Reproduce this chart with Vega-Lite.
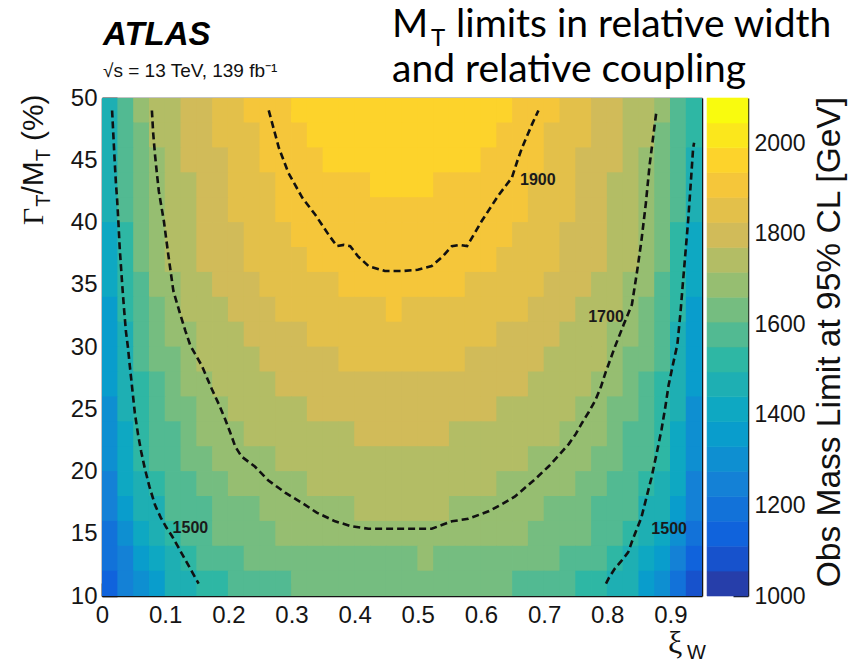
{
  "$schema": "https://vega.github.io/schema/vega-lite/v6.json",
  "width": 600,
  "height": 498,
  "autosize": {"type": "none"},
  "padding": {"left": 102, "top": 98, "right": 149, "bottom": 67},
  "background": "white",
  "config": {
    "view": {"stroke": null},
    "axis": {"grid": false, "zindex": 1, "tickColor": "#151515", "tickWidth": 1.5, "domainColor": "#151515", "domainWidth": 1.5, "labelFont": "Liberation Sans", "labelFontSize": 24, "labelColor": "#151515", "labelFlush": false, "labelOverlap": false},
    "text": {"font": "Liberation Sans", "color": "#111111"}
  },
  "datasets": {
    "cells": [
{"x":0.0125,"y":49,"v":1488},{"x":0.0375,"y":49,"v":1574},{"x":0.0625,"y":49,"v":1665},{"x":0.0875,"y":49,"v":1735},{"x":0.1125,"y":49,"v":1766},{"x":0.1375,"y":49,"v":1795},{"x":0.1625,"y":49,"v":1822},{"x":0.1875,"y":49,"v":1846},{"x":0.2125,"y":49,"v":1867},{"x":0.2375,"y":49,"v":1885},{"x":0.2625,"y":49,"v":1900},{"x":0.2875,"y":49,"v":1922},{"x":0.3125,"y":49,"v":1941},{"x":0.3375,"y":49,"v":1954},{"x":0.3625,"y":49,"v":1964},{"x":0.3875,"y":49,"v":1972},{"x":0.4125,"y":49,"v":1978},{"x":0.4375,"y":49,"v":1983},{"x":0.4625,"y":49,"v":1985},{"x":0.4875,"y":49,"v":1985},{"x":0.5125,"y":49,"v":1983},{"x":0.5375,"y":49,"v":1978},{"x":0.5625,"y":49,"v":1972},{"x":0.5875,"y":49,"v":1964},{"x":0.6125,"y":49,"v":1954},{"x":0.6375,"y":49,"v":1941},{"x":0.6625,"y":49,"v":1922},{"x":0.6875,"y":49,"v":1900},{"x":0.7125,"y":49,"v":1885},{"x":0.7375,"y":49,"v":1867},{"x":0.7625,"y":49,"v":1846},{"x":0.7875,"y":49,"v":1822},{"x":0.8125,"y":49,"v":1795},{"x":0.8375,"y":49,"v":1766},{"x":0.8625,"y":49,"v":1735},{"x":0.8875,"y":49,"v":1665},{"x":0.9125,"y":49,"v":1595},{"x":0.9375,"y":49,"v":1515},
{"x":0.0125,"y":47,"v":1478},{"x":0.0375,"y":47,"v":1565},{"x":0.0625,"y":47,"v":1657},{"x":0.0875,"y":47,"v":1722},{"x":0.1125,"y":47,"v":1755},{"x":0.1375,"y":47,"v":1784},{"x":0.1625,"y":47,"v":1810},{"x":0.1875,"y":47,"v":1834},{"x":0.2125,"y":47,"v":1855},{"x":0.2375,"y":47,"v":1873},{"x":0.2625,"y":47,"v":1890},{"x":0.2875,"y":47,"v":1909},{"x":0.3125,"y":47,"v":1926},{"x":0.3375,"y":47,"v":1940},{"x":0.3625,"y":47,"v":1952},{"x":0.3875,"y":47,"v":1961},{"x":0.4125,"y":47,"v":1968},{"x":0.4375,"y":47,"v":1973},{"x":0.4625,"y":47,"v":1975},{"x":0.4875,"y":47,"v":1975},{"x":0.5125,"y":47,"v":1973},{"x":0.5375,"y":47,"v":1968},{"x":0.5625,"y":47,"v":1961},{"x":0.5875,"y":47,"v":1952},{"x":0.6125,"y":47,"v":1940},{"x":0.6375,"y":47,"v":1926},{"x":0.6625,"y":47,"v":1909},{"x":0.6875,"y":47,"v":1890},{"x":0.7125,"y":47,"v":1873},{"x":0.7375,"y":47,"v":1855},{"x":0.7625,"y":47,"v":1834},{"x":0.7875,"y":47,"v":1810},{"x":0.8125,"y":47,"v":1784},{"x":0.8375,"y":47,"v":1755},{"x":0.8625,"y":47,"v":1722},{"x":0.8875,"y":47,"v":1657},{"x":0.9125,"y":47,"v":1585},{"x":0.9375,"y":47,"v":1505},
{"x":0.0125,"y":45,"v":1465},{"x":0.0375,"y":45,"v":1568},{"x":0.0625,"y":45,"v":1636},{"x":0.0875,"y":45,"v":1714},{"x":0.1125,"y":45,"v":1746},{"x":0.1375,"y":45,"v":1774},{"x":0.1625,"y":45,"v":1800},{"x":0.1875,"y":45,"v":1824},{"x":0.2125,"y":45,"v":1846},{"x":0.2375,"y":45,"v":1866},{"x":0.2625,"y":45,"v":1884},{"x":0.2875,"y":45,"v":1900},{"x":0.3125,"y":45,"v":1914},{"x":0.3375,"y":45,"v":1926},{"x":0.3625,"y":45,"v":1937},{"x":0.3875,"y":45,"v":1946},{"x":0.4125,"y":45,"v":1953},{"x":0.4375,"y":45,"v":1958},{"x":0.4625,"y":45,"v":1960},{"x":0.4875,"y":45,"v":1960},{"x":0.5125,"y":45,"v":1958},{"x":0.5375,"y":45,"v":1953},{"x":0.5625,"y":45,"v":1946},{"x":0.5875,"y":45,"v":1937},{"x":0.6125,"y":45,"v":1926},{"x":0.6375,"y":45,"v":1914},{"x":0.6625,"y":45,"v":1900},{"x":0.6875,"y":45,"v":1884},{"x":0.7125,"y":45,"v":1866},{"x":0.7375,"y":45,"v":1846},{"x":0.7625,"y":45,"v":1824},{"x":0.7875,"y":45,"v":1800},{"x":0.8125,"y":45,"v":1774},{"x":0.8375,"y":45,"v":1746},{"x":0.8625,"y":45,"v":1714},{"x":0.8875,"y":45,"v":1636},{"x":0.9125,"y":45,"v":1590},{"x":0.9375,"y":45,"v":1490},
{"x":0.0125,"y":43,"v":1455},{"x":0.0375,"y":43,"v":1570},{"x":0.0625,"y":43,"v":1640},{"x":0.0875,"y":43,"v":1700},{"x":0.1125,"y":43,"v":1738},{"x":0.1375,"y":43,"v":1769},{"x":0.1625,"y":43,"v":1796},{"x":0.1875,"y":43,"v":1820},{"x":0.2125,"y":43,"v":1842},{"x":0.2375,"y":43,"v":1862},{"x":0.2625,"y":43,"v":1879},{"x":0.2875,"y":43,"v":1893},{"x":0.3125,"y":43,"v":1904},{"x":0.3375,"y":43,"v":1911},{"x":0.3625,"y":43,"v":1918},{"x":0.3875,"y":43,"v":1925},{"x":0.4125,"y":43,"v":1932},{"x":0.4375,"y":43,"v":1940},{"x":0.4625,"y":43,"v":1945},{"x":0.4875,"y":43,"v":1945},{"x":0.5125,"y":43,"v":1940},{"x":0.5375,"y":43,"v":1932},{"x":0.5625,"y":43,"v":1925},{"x":0.5875,"y":43,"v":1918},{"x":0.6125,"y":43,"v":1911},{"x":0.6375,"y":43,"v":1904},{"x":0.6625,"y":43,"v":1893},{"x":0.6875,"y":43,"v":1879},{"x":0.7125,"y":43,"v":1862},{"x":0.7375,"y":43,"v":1842},{"x":0.7625,"y":43,"v":1820},{"x":0.7875,"y":43,"v":1796},{"x":0.8125,"y":43,"v":1769},{"x":0.8375,"y":43,"v":1738},{"x":0.8625,"y":43,"v":1700},{"x":0.8875,"y":43,"v":1640},{"x":0.9125,"y":43,"v":1575},{"x":0.9375,"y":43,"v":1468},
{"x":0.0125,"y":41,"v":1440},{"x":0.0375,"y":41,"v":1551},{"x":0.0625,"y":41,"v":1625},{"x":0.0875,"y":41,"v":1690},{"x":0.1125,"y":41,"v":1732},{"x":0.1375,"y":41,"v":1762},{"x":0.1625,"y":41,"v":1789},{"x":0.1875,"y":41,"v":1813},{"x":0.2125,"y":41,"v":1834},{"x":0.2375,"y":41,"v":1853},{"x":0.2625,"y":41,"v":1869},{"x":0.2875,"y":41,"v":1882},{"x":0.3125,"y":41,"v":1893},{"x":0.3375,"y":41,"v":1902},{"x":0.3625,"y":41,"v":1910},{"x":0.3875,"y":41,"v":1917},{"x":0.4125,"y":41,"v":1923},{"x":0.4375,"y":41,"v":1928},{"x":0.4625,"y":41,"v":1930},{"x":0.4875,"y":41,"v":1930},{"x":0.5125,"y":41,"v":1928},{"x":0.5375,"y":41,"v":1923},{"x":0.5625,"y":41,"v":1917},{"x":0.5875,"y":41,"v":1910},{"x":0.6125,"y":41,"v":1902},{"x":0.6375,"y":41,"v":1893},{"x":0.6625,"y":41,"v":1882},{"x":0.6875,"y":41,"v":1869},{"x":0.7125,"y":41,"v":1853},{"x":0.7375,"y":41,"v":1834},{"x":0.7625,"y":41,"v":1813},{"x":0.7875,"y":41,"v":1789},{"x":0.8125,"y":41,"v":1762},{"x":0.8375,"y":41,"v":1732},{"x":0.8625,"y":41,"v":1690},{"x":0.8875,"y":41,"v":1625},{"x":0.9125,"y":41,"v":1556},{"x":0.9375,"y":41,"v":1450},
{"x":0.0125,"y":39,"v":1425},{"x":0.0375,"y":39,"v":1546},{"x":0.0625,"y":39,"v":1618},{"x":0.0875,"y":39,"v":1688},{"x":0.1125,"y":39,"v":1724},{"x":0.1375,"y":39,"v":1753},{"x":0.1625,"y":39,"v":1779},{"x":0.1875,"y":39,"v":1802},{"x":0.2125,"y":39,"v":1823},{"x":0.2375,"y":39,"v":1841},{"x":0.2625,"y":39,"v":1857},{"x":0.2875,"y":39,"v":1871},{"x":0.3125,"y":39,"v":1883},{"x":0.3375,"y":39,"v":1893},{"x":0.3625,"y":39,"v":1901},{"x":0.3875,"y":39,"v":1907},{"x":0.4125,"y":39,"v":1913},{"x":0.4375,"y":39,"v":1918},{"x":0.4625,"y":39,"v":1920},{"x":0.4875,"y":39,"v":1920},{"x":0.5125,"y":39,"v":1918},{"x":0.5375,"y":39,"v":1913},{"x":0.5625,"y":39,"v":1907},{"x":0.5875,"y":39,"v":1901},{"x":0.6125,"y":39,"v":1893},{"x":0.6375,"y":39,"v":1883},{"x":0.6625,"y":39,"v":1871},{"x":0.6875,"y":39,"v":1857},{"x":0.7125,"y":39,"v":1841},{"x":0.7375,"y":39,"v":1823},{"x":0.7625,"y":39,"v":1802},{"x":0.7875,"y":39,"v":1779},{"x":0.8125,"y":39,"v":1753},{"x":0.8375,"y":39,"v":1724},{"x":0.8625,"y":39,"v":1688},{"x":0.8875,"y":39,"v":1618},{"x":0.9125,"y":39,"v":1546},{"x":0.9375,"y":39,"v":1430},
{"x":0.0125,"y":37,"v":1410},{"x":0.0375,"y":37,"v":1539},{"x":0.0625,"y":37,"v":1610},{"x":0.0875,"y":37,"v":1680},{"x":0.1125,"y":37,"v":1715},{"x":0.1375,"y":37,"v":1745},{"x":0.1625,"y":37,"v":1771},{"x":0.1875,"y":37,"v":1795},{"x":0.2125,"y":37,"v":1816},{"x":0.2375,"y":37,"v":1834},{"x":0.2625,"y":37,"v":1850},{"x":0.2875,"y":37,"v":1864},{"x":0.3125,"y":37,"v":1876},{"x":0.3375,"y":37,"v":1885},{"x":0.3625,"y":37,"v":1892},{"x":0.3875,"y":37,"v":1897},{"x":0.4125,"y":37,"v":1901},{"x":0.4375,"y":37,"v":1904},{"x":0.4625,"y":37,"v":1906},{"x":0.4875,"y":37,"v":1906},{"x":0.5125,"y":37,"v":1904},{"x":0.5375,"y":37,"v":1901},{"x":0.5625,"y":37,"v":1897},{"x":0.5875,"y":37,"v":1892},{"x":0.6125,"y":37,"v":1885},{"x":0.6375,"y":37,"v":1876},{"x":0.6625,"y":37,"v":1864},{"x":0.6875,"y":37,"v":1850},{"x":0.7125,"y":37,"v":1834},{"x":0.7375,"y":37,"v":1816},{"x":0.7625,"y":37,"v":1795},{"x":0.7875,"y":37,"v":1771},{"x":0.8125,"y":37,"v":1745},{"x":0.8375,"y":37,"v":1715},{"x":0.8625,"y":37,"v":1680},{"x":0.8875,"y":37,"v":1610},{"x":0.9125,"y":37,"v":1539},{"x":0.9375,"y":37,"v":1412},
{"x":0.0125,"y":35,"v":1395},{"x":0.0375,"y":35,"v":1530},{"x":0.0625,"y":35,"v":1600},{"x":0.0875,"y":35,"v":1668},{"x":0.1125,"y":35,"v":1703},{"x":0.1375,"y":35,"v":1728},{"x":0.1625,"y":35,"v":1753},{"x":0.1875,"y":35,"v":1776},{"x":0.2125,"y":35,"v":1796},{"x":0.2375,"y":35,"v":1814},{"x":0.2625,"y":35,"v":1830},{"x":0.2875,"y":35,"v":1845},{"x":0.3125,"y":35,"v":1857},{"x":0.3375,"y":35,"v":1867},{"x":0.3625,"y":35,"v":1876},{"x":0.3875,"y":35,"v":1883},{"x":0.4125,"y":35,"v":1888},{"x":0.4375,"y":35,"v":1892},{"x":0.4625,"y":35,"v":1894},{"x":0.4875,"y":35,"v":1894},{"x":0.5125,"y":35,"v":1892},{"x":0.5375,"y":35,"v":1888},{"x":0.5625,"y":35,"v":1883},{"x":0.5875,"y":35,"v":1876},{"x":0.6125,"y":35,"v":1867},{"x":0.6375,"y":35,"v":1857},{"x":0.6625,"y":35,"v":1845},{"x":0.6875,"y":35,"v":1830},{"x":0.7125,"y":35,"v":1814},{"x":0.7375,"y":35,"v":1796},{"x":0.7625,"y":35,"v":1776},{"x":0.7875,"y":35,"v":1753},{"x":0.8125,"y":35,"v":1728},{"x":0.8375,"y":35,"v":1703},{"x":0.8625,"y":35,"v":1668},{"x":0.8875,"y":35,"v":1600},{"x":0.9125,"y":35,"v":1530},{"x":0.9375,"y":35,"v":1395},
{"x":0.0125,"y":33,"v":1380},{"x":0.0375,"y":33,"v":1508},{"x":0.0625,"y":33,"v":1590},{"x":0.0875,"y":33,"v":1655},{"x":0.1125,"y":33,"v":1694},{"x":0.1375,"y":33,"v":1717},{"x":0.1625,"y":33,"v":1741},{"x":0.1875,"y":33,"v":1763},{"x":0.2125,"y":33,"v":1783},{"x":0.2375,"y":33,"v":1800},{"x":0.2625,"y":33,"v":1816},{"x":0.2875,"y":33,"v":1830},{"x":0.3125,"y":33,"v":1842},{"x":0.3375,"y":33,"v":1852},{"x":0.3625,"y":33,"v":1861},{"x":0.3875,"y":33,"v":1868},{"x":0.4125,"y":33,"v":1874},{"x":0.4375,"y":33,"v":1878},{"x":0.4625,"y":33,"v":1884},{"x":0.4875,"y":33,"v":1876},{"x":0.5125,"y":33,"v":1878},{"x":0.5375,"y":33,"v":1874},{"x":0.5625,"y":33,"v":1868},{"x":0.5875,"y":33,"v":1861},{"x":0.6125,"y":33,"v":1852},{"x":0.6375,"y":33,"v":1842},{"x":0.6625,"y":33,"v":1830},{"x":0.6875,"y":33,"v":1816},{"x":0.7125,"y":33,"v":1800},{"x":0.7375,"y":33,"v":1783},{"x":0.7625,"y":33,"v":1763},{"x":0.7875,"y":33,"v":1741},{"x":0.8125,"y":33,"v":1717},{"x":0.8375,"y":33,"v":1694},{"x":0.8625,"y":33,"v":1655},{"x":0.8875,"y":33,"v":1590},{"x":0.9125,"y":33,"v":1508},{"x":0.9375,"y":33,"v":1380},
{"x":0.0125,"y":31,"v":1365},{"x":0.0375,"y":31,"v":1494},{"x":0.0625,"y":31,"v":1575},{"x":0.0875,"y":31,"v":1640},{"x":0.1125,"y":31,"v":1680},{"x":0.1375,"y":31,"v":1708},{"x":0.1625,"y":31,"v":1729},{"x":0.1875,"y":31,"v":1748},{"x":0.2125,"y":31,"v":1765},{"x":0.2375,"y":31,"v":1780},{"x":0.2625,"y":31,"v":1795},{"x":0.2875,"y":31,"v":1809},{"x":0.3125,"y":31,"v":1822},{"x":0.3375,"y":31,"v":1833},{"x":0.3625,"y":31,"v":1842},{"x":0.3875,"y":31,"v":1850},{"x":0.4125,"y":31,"v":1856},{"x":0.4375,"y":31,"v":1860},{"x":0.4625,"y":31,"v":1862},{"x":0.4875,"y":31,"v":1862},{"x":0.5125,"y":31,"v":1860},{"x":0.5375,"y":31,"v":1856},{"x":0.5625,"y":31,"v":1850},{"x":0.5875,"y":31,"v":1842},{"x":0.6125,"y":31,"v":1833},{"x":0.6375,"y":31,"v":1822},{"x":0.6625,"y":31,"v":1809},{"x":0.6875,"y":31,"v":1795},{"x":0.7125,"y":31,"v":1780},{"x":0.7375,"y":31,"v":1765},{"x":0.7625,"y":31,"v":1748},{"x":0.7875,"y":31,"v":1729},{"x":0.8125,"y":31,"v":1708},{"x":0.8375,"y":31,"v":1680},{"x":0.8625,"y":31,"v":1640},{"x":0.8875,"y":31,"v":1575},{"x":0.9125,"y":31,"v":1494},{"x":0.9375,"y":31,"v":1365},
{"x":0.0125,"y":29,"v":1350},{"x":0.0375,"y":29,"v":1480},{"x":0.0625,"y":29,"v":1555},{"x":0.0875,"y":29,"v":1615},{"x":0.1125,"y":29,"v":1657},{"x":0.1375,"y":29,"v":1690},{"x":0.1625,"y":29,"v":1720},{"x":0.1875,"y":29,"v":1739},{"x":0.2125,"y":29,"v":1755},{"x":0.2375,"y":29,"v":1768},{"x":0.2625,"y":29,"v":1780},{"x":0.2875,"y":29,"v":1792},{"x":0.3125,"y":29,"v":1803},{"x":0.3375,"y":29,"v":1814},{"x":0.3625,"y":29,"v":1823},{"x":0.3875,"y":29,"v":1831},{"x":0.4125,"y":29,"v":1837},{"x":0.4375,"y":29,"v":1841},{"x":0.4625,"y":29,"v":1843},{"x":0.4875,"y":29,"v":1843},{"x":0.5125,"y":29,"v":1841},{"x":0.5375,"y":29,"v":1837},{"x":0.5625,"y":29,"v":1831},{"x":0.5875,"y":29,"v":1823},{"x":0.6125,"y":29,"v":1814},{"x":0.6375,"y":29,"v":1803},{"x":0.6625,"y":29,"v":1792},{"x":0.6875,"y":29,"v":1780},{"x":0.7125,"y":29,"v":1768},{"x":0.7375,"y":29,"v":1755},{"x":0.7625,"y":29,"v":1739},{"x":0.7875,"y":29,"v":1720},{"x":0.8125,"y":29,"v":1690},{"x":0.8375,"y":29,"v":1657},{"x":0.8625,"y":29,"v":1615},{"x":0.8875,"y":29,"v":1555},{"x":0.9125,"y":29,"v":1480},{"x":0.9375,"y":29,"v":1350},
{"x":0.0125,"y":27,"v":1335},{"x":0.0375,"y":27,"v":1468},{"x":0.0625,"y":27,"v":1545},{"x":0.0875,"y":27,"v":1595},{"x":0.1125,"y":27,"v":1634},{"x":0.1375,"y":27,"v":1668},{"x":0.1625,"y":27,"v":1698},{"x":0.1875,"y":27,"v":1722},{"x":0.2125,"y":27,"v":1738},{"x":0.2375,"y":27,"v":1752},{"x":0.2625,"y":27,"v":1765},{"x":0.2875,"y":27,"v":1776},{"x":0.3125,"y":27,"v":1786},{"x":0.3375,"y":27,"v":1795},{"x":0.3625,"y":27,"v":1803},{"x":0.3875,"y":27,"v":1810},{"x":0.4125,"y":27,"v":1816},{"x":0.4375,"y":27,"v":1820},{"x":0.4625,"y":27,"v":1822},{"x":0.4875,"y":27,"v":1822},{"x":0.5125,"y":27,"v":1820},{"x":0.5375,"y":27,"v":1816},{"x":0.5625,"y":27,"v":1810},{"x":0.5875,"y":27,"v":1803},{"x":0.6125,"y":27,"v":1795},{"x":0.6375,"y":27,"v":1786},{"x":0.6625,"y":27,"v":1776},{"x":0.6875,"y":27,"v":1765},{"x":0.7125,"y":27,"v":1752},{"x":0.7375,"y":27,"v":1738},{"x":0.7625,"y":27,"v":1722},{"x":0.7875,"y":27,"v":1698},{"x":0.8125,"y":27,"v":1668},{"x":0.8375,"y":27,"v":1634},{"x":0.8625,"y":27,"v":1595},{"x":0.8875,"y":27,"v":1545},{"x":0.9125,"y":27,"v":1468},{"x":0.9375,"y":27,"v":1335},
{"x":0.0125,"y":25,"v":1318},{"x":0.0375,"y":25,"v":1456},{"x":0.0625,"y":25,"v":1532},{"x":0.0875,"y":25,"v":1578},{"x":0.1125,"y":25,"v":1615},{"x":0.1375,"y":25,"v":1648},{"x":0.1625,"y":25,"v":1678},{"x":0.1875,"y":25,"v":1705},{"x":0.2125,"y":25,"v":1721},{"x":0.2375,"y":25,"v":1735},{"x":0.2625,"y":25,"v":1747},{"x":0.2875,"y":25,"v":1758},{"x":0.3125,"y":25,"v":1768},{"x":0.3375,"y":25,"v":1777},{"x":0.3625,"y":25,"v":1784},{"x":0.3875,"y":25,"v":1790},{"x":0.4125,"y":25,"v":1795},{"x":0.4375,"y":25,"v":1798},{"x":0.4625,"y":25,"v":1800},{"x":0.4875,"y":25,"v":1800},{"x":0.5125,"y":25,"v":1798},{"x":0.5375,"y":25,"v":1795},{"x":0.5625,"y":25,"v":1790},{"x":0.5875,"y":25,"v":1784},{"x":0.6125,"y":25,"v":1777},{"x":0.6375,"y":25,"v":1768},{"x":0.6625,"y":25,"v":1758},{"x":0.6875,"y":25,"v":1747},{"x":0.7125,"y":25,"v":1735},{"x":0.7375,"y":25,"v":1721},{"x":0.7625,"y":25,"v":1705},{"x":0.7875,"y":25,"v":1678},{"x":0.8125,"y":25,"v":1648},{"x":0.8375,"y":25,"v":1615},{"x":0.8625,"y":25,"v":1578},{"x":0.8875,"y":25,"v":1532},{"x":0.9125,"y":25,"v":1456},{"x":0.9375,"y":25,"v":1318},
{"x":0.0125,"y":23,"v":1300},{"x":0.0375,"y":23,"v":1437},{"x":0.0625,"y":23,"v":1514},{"x":0.0875,"y":23,"v":1561},{"x":0.1125,"y":23,"v":1600},{"x":0.1375,"y":23,"v":1633},{"x":0.1625,"y":23,"v":1662},{"x":0.1875,"y":23,"v":1688},{"x":0.2125,"y":23,"v":1710},{"x":0.2375,"y":23,"v":1720},{"x":0.2625,"y":23,"v":1729},{"x":0.2875,"y":23,"v":1738},{"x":0.3125,"y":23,"v":1747},{"x":0.3375,"y":23,"v":1755},{"x":0.3625,"y":23,"v":1762},{"x":0.3875,"y":23,"v":1768},{"x":0.4125,"y":23,"v":1773},{"x":0.4375,"y":23,"v":1776},{"x":0.4625,"y":23,"v":1778},{"x":0.4875,"y":23,"v":1778},{"x":0.5125,"y":23,"v":1776},{"x":0.5375,"y":23,"v":1773},{"x":0.5625,"y":23,"v":1768},{"x":0.5875,"y":23,"v":1762},{"x":0.6125,"y":23,"v":1755},{"x":0.6375,"y":23,"v":1747},{"x":0.6625,"y":23,"v":1738},{"x":0.6875,"y":23,"v":1729},{"x":0.7125,"y":23,"v":1720},{"x":0.7375,"y":23,"v":1710},{"x":0.7625,"y":23,"v":1688},{"x":0.7875,"y":23,"v":1662},{"x":0.8125,"y":23,"v":1633},{"x":0.8375,"y":23,"v":1600},{"x":0.8625,"y":23,"v":1561},{"x":0.8875,"y":23,"v":1514},{"x":0.9125,"y":23,"v":1437},{"x":0.9375,"y":23,"v":1300},
{"x":0.0125,"y":21,"v":1280},{"x":0.0375,"y":21,"v":1418},{"x":0.0625,"y":21,"v":1496},{"x":0.0875,"y":21,"v":1560},{"x":0.1125,"y":21,"v":1594},{"x":0.1375,"y":21,"v":1622},{"x":0.1625,"y":21,"v":1646},{"x":0.1875,"y":21,"v":1668},{"x":0.2125,"y":21,"v":1688},{"x":0.2375,"y":21,"v":1705},{"x":0.2625,"y":21,"v":1713},{"x":0.2875,"y":21,"v":1720},{"x":0.3125,"y":21,"v":1728},{"x":0.3375,"y":21,"v":1736},{"x":0.3625,"y":21,"v":1743},{"x":0.3875,"y":21,"v":1749},{"x":0.4125,"y":21,"v":1753},{"x":0.4375,"y":21,"v":1756},{"x":0.4625,"y":21,"v":1758},{"x":0.4875,"y":21,"v":1758},{"x":0.5125,"y":21,"v":1756},{"x":0.5375,"y":21,"v":1753},{"x":0.5625,"y":21,"v":1749},{"x":0.5875,"y":21,"v":1743},{"x":0.6125,"y":21,"v":1736},{"x":0.6375,"y":21,"v":1728},{"x":0.6625,"y":21,"v":1720},{"x":0.6875,"y":21,"v":1713},{"x":0.7125,"y":21,"v":1705},{"x":0.7375,"y":21,"v":1688},{"x":0.7625,"y":21,"v":1668},{"x":0.7875,"y":21,"v":1646},{"x":0.8125,"y":21,"v":1622},{"x":0.8375,"y":21,"v":1594},{"x":0.8625,"y":21,"v":1560},{"x":0.8875,"y":21,"v":1496},{"x":0.9125,"y":21,"v":1418},{"x":0.9375,"y":21,"v":1280},
{"x":0.0125,"y":19,"v":1260},{"x":0.0375,"y":19,"v":1395},{"x":0.0625,"y":19,"v":1475},{"x":0.0875,"y":19,"v":1540},{"x":0.1125,"y":19,"v":1574},{"x":0.1375,"y":19,"v":1602},{"x":0.1625,"y":19,"v":1625},{"x":0.1875,"y":19,"v":1646},{"x":0.2125,"y":19,"v":1664},{"x":0.2375,"y":19,"v":1680},{"x":0.2625,"y":19,"v":1694},{"x":0.2875,"y":19,"v":1706},{"x":0.3125,"y":19,"v":1713},{"x":0.3375,"y":19,"v":1719},{"x":0.3625,"y":19,"v":1725},{"x":0.3875,"y":19,"v":1730},{"x":0.4125,"y":19,"v":1735},{"x":0.4375,"y":19,"v":1738},{"x":0.4625,"y":19,"v":1740},{"x":0.4875,"y":19,"v":1740},{"x":0.5125,"y":19,"v":1738},{"x":0.5375,"y":19,"v":1735},{"x":0.5625,"y":19,"v":1730},{"x":0.5875,"y":19,"v":1725},{"x":0.6125,"y":19,"v":1719},{"x":0.6375,"y":19,"v":1713},{"x":0.6625,"y":19,"v":1706},{"x":0.6875,"y":19,"v":1694},{"x":0.7125,"y":19,"v":1680},{"x":0.7375,"y":19,"v":1664},{"x":0.7625,"y":19,"v":1646},{"x":0.7875,"y":19,"v":1625},{"x":0.8125,"y":19,"v":1602},{"x":0.8375,"y":19,"v":1574},{"x":0.8625,"y":19,"v":1540},{"x":0.8875,"y":19,"v":1475},{"x":0.9125,"y":19,"v":1395},{"x":0.9375,"y":19,"v":1255},
{"x":0.0125,"y":17,"v":1235},{"x":0.0375,"y":17,"v":1370},{"x":0.0625,"y":17,"v":1440},{"x":0.0875,"y":17,"v":1494},{"x":0.1125,"y":17,"v":1552},{"x":0.1375,"y":17,"v":1578},{"x":0.1625,"y":17,"v":1601},{"x":0.1875,"y":17,"v":1622},{"x":0.2125,"y":17,"v":1640},{"x":0.2375,"y":17,"v":1656},{"x":0.2625,"y":17,"v":1670},{"x":0.2875,"y":17,"v":1682},{"x":0.3125,"y":17,"v":1692},{"x":0.3375,"y":17,"v":1700},{"x":0.3625,"y":17,"v":1706},{"x":0.3875,"y":17,"v":1711},{"x":0.4125,"y":17,"v":1716},{"x":0.4375,"y":17,"v":1720},{"x":0.4625,"y":17,"v":1722},{"x":0.4875,"y":17,"v":1722},{"x":0.5125,"y":17,"v":1720},{"x":0.5375,"y":17,"v":1716},{"x":0.5625,"y":17,"v":1711},{"x":0.5875,"y":17,"v":1706},{"x":0.6125,"y":17,"v":1700},{"x":0.6375,"y":17,"v":1692},{"x":0.6625,"y":17,"v":1682},{"x":0.6875,"y":17,"v":1670},{"x":0.7125,"y":17,"v":1656},{"x":0.7375,"y":17,"v":1640},{"x":0.7625,"y":17,"v":1622},{"x":0.7875,"y":17,"v":1601},{"x":0.8125,"y":17,"v":1578},{"x":0.8375,"y":17,"v":1552},{"x":0.8625,"y":17,"v":1494},{"x":0.8875,"y":17,"v":1440},{"x":0.9125,"y":17,"v":1370},{"x":0.9375,"y":17,"v":1228},
{"x":0.0125,"y":15,"v":1215},{"x":0.0375,"y":15,"v":1310},{"x":0.0625,"y":15,"v":1385},{"x":0.0875,"y":15,"v":1450},{"x":0.1125,"y":15,"v":1516},{"x":0.1375,"y":15,"v":1555},{"x":0.1625,"y":15,"v":1583},{"x":0.1875,"y":15,"v":1608},{"x":0.2125,"y":15,"v":1630},{"x":0.2375,"y":15,"v":1644},{"x":0.2625,"y":15,"v":1656},{"x":0.2875,"y":15,"v":1667},{"x":0.3125,"y":15,"v":1676},{"x":0.3375,"y":15,"v":1683},{"x":0.3625,"y":15,"v":1688},{"x":0.3875,"y":15,"v":1691},{"x":0.4125,"y":15,"v":1693},{"x":0.4375,"y":15,"v":1694},{"x":0.4625,"y":15,"v":1694},{"x":0.4875,"y":15,"v":1694},{"x":0.5125,"y":15,"v":1694},{"x":0.5375,"y":15,"v":1693},{"x":0.5625,"y":15,"v":1691},{"x":0.5875,"y":15,"v":1688},{"x":0.6125,"y":15,"v":1683},{"x":0.6375,"y":15,"v":1676},{"x":0.6625,"y":15,"v":1667},{"x":0.6875,"y":15,"v":1656},{"x":0.7125,"y":15,"v":1644},{"x":0.7375,"y":15,"v":1630},{"x":0.7625,"y":15,"v":1608},{"x":0.7875,"y":15,"v":1583},{"x":0.8125,"y":15,"v":1555},{"x":0.8375,"y":15,"v":1516},{"x":0.8625,"y":15,"v":1450},{"x":0.8875,"y":15,"v":1385},{"x":0.9125,"y":15,"v":1300},{"x":0.9375,"y":15,"v":1195},
{"x":0.0125,"y":13,"v":1180},{"x":0.0375,"y":13,"v":1265},{"x":0.0625,"y":13,"v":1345},{"x":0.0875,"y":13,"v":1415},{"x":0.1125,"y":13,"v":1478},{"x":0.1375,"y":13,"v":1521},{"x":0.1625,"y":13,"v":1552},{"x":0.1875,"y":13,"v":1575},{"x":0.2125,"y":13,"v":1593},{"x":0.2375,"y":13,"v":1607},{"x":0.2625,"y":13,"v":1619},{"x":0.2875,"y":13,"v":1629},{"x":0.3125,"y":13,"v":1637},{"x":0.3375,"y":13,"v":1643},{"x":0.3625,"y":13,"v":1648},{"x":0.3875,"y":13,"v":1652},{"x":0.4125,"y":13,"v":1655},{"x":0.4375,"y":13,"v":1657},{"x":0.4625,"y":13,"v":1658},{"x":0.4875,"y":13,"v":1658},{"x":0.5125,"y":13,"v":1665},{"x":0.5375,"y":13,"v":1655},{"x":0.5625,"y":13,"v":1652},{"x":0.5875,"y":13,"v":1648},{"x":0.6125,"y":13,"v":1643},{"x":0.6375,"y":13,"v":1637},{"x":0.6625,"y":13,"v":1629},{"x":0.6875,"y":13,"v":1619},{"x":0.7125,"y":13,"v":1607},{"x":0.7375,"y":13,"v":1593},{"x":0.7625,"y":13,"v":1575},{"x":0.7875,"y":13,"v":1552},{"x":0.8125,"y":13,"v":1521},{"x":0.8375,"y":13,"v":1478},{"x":0.8625,"y":13,"v":1415},{"x":0.8875,"y":13,"v":1345},{"x":0.9125,"y":13,"v":1255},{"x":0.9375,"y":13,"v":1150},
{"x":0.0125,"y":11,"v":1140},{"x":0.0375,"y":11,"v":1240},{"x":0.0625,"y":11,"v":1310},{"x":0.0875,"y":11,"v":1380},{"x":0.1125,"y":11,"v":1440},{"x":0.1375,"y":11,"v":1485},{"x":0.1625,"y":11,"v":1515},{"x":0.1875,"y":11,"v":1538},{"x":0.2125,"y":11,"v":1557},{"x":0.2375,"y":11,"v":1573},{"x":0.2625,"y":11,"v":1587},{"x":0.2875,"y":11,"v":1599},{"x":0.3125,"y":11,"v":1609},{"x":0.3375,"y":11,"v":1617},{"x":0.3625,"y":11,"v":1623},{"x":0.3875,"y":11,"v":1628},{"x":0.4125,"y":11,"v":1632},{"x":0.4375,"y":11,"v":1634},{"x":0.4625,"y":11,"v":1635},{"x":0.4875,"y":11,"v":1635},{"x":0.5125,"y":11,"v":1634},{"x":0.5375,"y":11,"v":1632},{"x":0.5625,"y":11,"v":1628},{"x":0.5875,"y":11,"v":1623},{"x":0.6125,"y":11,"v":1617},{"x":0.6375,"y":11,"v":1609},{"x":0.6625,"y":11,"v":1599},{"x":0.6875,"y":11,"v":1587},{"x":0.7125,"y":11,"v":1573},{"x":0.7375,"y":11,"v":1557},{"x":0.7625,"y":11,"v":1538},{"x":0.7875,"y":11,"v":1515},{"x":0.8125,"y":11,"v":1485},{"x":0.8375,"y":11,"v":1440},{"x":0.8625,"y":11,"v":1380},{"x":0.8875,"y":11,"v":1310},{"x":0.9125,"y":11,"v":1200},{"x":0.9375,"y":11,"v":1090}
    ],
    "contours": [
{"c":"1500L","x":0.016,"y":49.0},{"c":"1500L","x":0.018,"y":47.0},{"c":"1500L","x":0.020,"y":45.0},{"c":"1500L","x":0.022,"y":43.2},{"c":"1500L","x":0.024,"y":41.8},{"c":"1500L","x":0.026,"y":40.0},{"c":"1500L","x":0.028,"y":38.0},{"c":"1500L","x":0.030,"y":36.5},{"c":"1500L","x":0.032,"y":35.0},{"c":"1500L","x":0.035,"y":33.0},{"c":"1500L","x":0.038,"y":31.2},{"c":"1500L","x":0.041,"y":30.0},{"c":"1500L","x":0.044,"y":28.5},{"c":"1500L","x":0.048,"y":26.6},{"c":"1500L","x":0.052,"y":24.7},{"c":"1500L","x":0.057,"y":23.0},{"c":"1500L","x":0.062,"y":21.6},{"c":"1500L","x":0.068,"y":20.2},{"c":"1500L","x":0.075,"y":18.8},{"c":"1500L","x":0.084,"y":17.3},{"c":"1500L","x":0.093,"y":16.3},{"c":"1500L","x":0.102,"y":15.5},{"c":"1500L","x":0.111,"y":14.8},{"c":"1500L","x":0.121,"y":13.9},{"c":"1500L","x":0.132,"y":12.9},{"c":"1500L","x":0.143,"y":11.9},{"c":"1500L","x":0.153,"y":11.0},
{"c":"1500R","x":0.798,"y":11.0},{"c":"1500R","x":0.803,"y":11.5},{"c":"1500R","x":0.812,"y":12.2},{"c":"1500R","x":0.822,"y":12.8},{"c":"1500R","x":0.833,"y":13.5},{"c":"1500R","x":0.840,"y":14.5},{"c":"1500R","x":0.847,"y":15.4},{"c":"1500R","x":0.854,"y":16.3},{"c":"1500R","x":0.862,"y":17.9},{"c":"1500R","x":0.870,"y":19.5},{"c":"1500R","x":0.878,"y":21.4},{"c":"1500R","x":0.886,"y":23.4},{"c":"1500R","x":0.892,"y":25.2},{"c":"1500R","x":0.897,"y":26.9},{"c":"1500R","x":0.904,"y":28.6},{"c":"1500R","x":0.911,"y":30.2},{"c":"1500R","x":0.916,"y":32.8},{"c":"1500R","x":0.920,"y":35.3},{"c":"1500R","x":0.924,"y":37.7},{"c":"1500R","x":0.928,"y":40.1},{"c":"1500R","x":0.932,"y":43.0},{"c":"1500R","x":0.936,"y":46.0},{"c":"1500R","x":0.9375,"y":46.4},
{"c":"1700","x":0.079,"y":49.0},{"c":"1700","x":0.081,"y":47.2},{"c":"1700","x":0.084,"y":45.4},{"c":"1700","x":0.087,"y":43.9},{"c":"1700","x":0.090,"y":42.5},{"c":"1700","x":0.098,"y":40.1},{"c":"1700","x":0.105,"y":37.4},{"c":"1700","x":0.113,"y":34.5},{"c":"1700","x":0.124,"y":32.6},{"c":"1700","x":0.132,"y":31.3},{"c":"1700","x":0.140,"y":30.1},{"c":"1700","x":0.158,"y":28.5},{"c":"1700","x":0.174,"y":26.6},{"c":"1700","x":0.185,"y":25.4},{"c":"1700","x":0.195,"y":24.2},{"c":"1700","x":0.204,"y":23.0},{"c":"1700","x":0.211,"y":22.0},{"c":"1700","x":0.221,"y":21.2},{"c":"1700","x":0.242,"y":20.4},{"c":"1700","x":0.263,"y":19.3},{"c":"1700","x":0.290,"y":18.3},{"c":"1700","x":0.316,"y":17.5},{"c":"1700","x":0.340,"y":16.7},{"c":"1700","x":0.369,"y":16.0},{"c":"1700","x":0.395,"y":15.6},{"c":"1700","x":0.422,"y":15.4},{"c":"1700","x":0.475,"y":15.4},{"c":"1700","x":0.522,"y":15.4},{"c":"1700","x":0.538,"y":15.7},{"c":"1700","x":0.554,"y":16.0},{"c":"1700","x":0.580,"y":16.2},{"c":"1700","x":0.612,"y":16.8},{"c":"1700","x":0.634,"y":17.4},{"c":"1700","x":0.654,"y":18.0},{"c":"1700","x":0.686,"y":19.4},{"c":"1700","x":0.707,"y":20.4},{"c":"1700","x":0.725,"y":21.4},{"c":"1700","x":0.739,"y":22.2},{"c":"1700","x":0.750,"y":23.0},{"c":"1700","x":0.760,"y":23.9},{"c":"1700","x":0.771,"y":24.8},{"c":"1700","x":0.781,"y":25.7},{"c":"1700","x":0.790,"y":26.8},{"c":"1700","x":0.797,"y":27.9},{"c":"1700","x":0.812,"y":30.0},{"c":"1700","x":0.826,"y":31.8},{"c":"1700","x":0.839,"y":33.4},{"c":"1700","x":0.847,"y":36.0},{"c":"1700","x":0.854,"y":38.5},{"c":"1700","x":0.861,"y":41.5},{"c":"1700","x":0.867,"y":44.6},{"c":"1700","x":0.873,"y":47.0},{"c":"1700","x":0.878,"y":49.0},
{"c":"1900","x":0.264,"y":49.0},{"c":"1900","x":0.272,"y":47.5},{"c":"1900","x":0.280,"y":46.0},{"c":"1900","x":0.295,"y":44.0},{"c":"1900","x":0.317,"y":42.0},{"c":"1900","x":0.338,"y":40.6},{"c":"1900","x":0.359,"y":39.0},{"c":"1900","x":0.372,"y":38.1},{"c":"1900","x":0.383,"y":38.2},{"c":"1900","x":0.393,"y":38.1},{"c":"1900","x":0.405,"y":37.3},{"c":"1900","x":0.422,"y":36.5},{"c":"1900","x":0.448,"y":36.1},{"c":"1900","x":0.475,"y":36.1},{"c":"1900","x":0.500,"y":36.2},{"c":"1900","x":0.522,"y":36.5},{"c":"1900","x":0.540,"y":37.3},{"c":"1900","x":0.554,"y":38.1},{"c":"1900","x":0.566,"y":38.2},{"c":"1900","x":0.578,"y":38.1},{"c":"1900","x":0.601,"y":40.1},{"c":"1900","x":0.628,"y":42.2},{"c":"1900","x":0.649,"y":43.6},{"c":"1900","x":0.658,"y":45.0},{"c":"1900","x":0.665,"y":46.0},{"c":"1900","x":0.681,"y":47.9},{"c":"1900","x":0.691,"y":49.0}
    ],
    "clabels": [
      {"level": "1900", "x": 0.690, "y": 43.44},
      {"level": "1700", "x": 0.798, "y": 32.41},
      {"level": "1500", "x": 0.140, "y": 15.49},
      {"level": "1500", "x": 0.898, "y": 15.36}
    ],
    "bands": [
      {"lo": 1000, "hi": 1055}, {"lo": 1055, "hi": 1110}, {"lo": 1110, "hi": 1165}, {"lo": 1165, "hi": 1220},
      {"lo": 1220, "hi": 1275}, {"lo": 1275, "hi": 1330}, {"lo": 1330, "hi": 1385}, {"lo": 1385, "hi": 1440},
      {"lo": 1440, "hi": 1495}, {"lo": 1495, "hi": 1550}, {"lo": 1550, "hi": 1605}, {"lo": 1605, "hi": 1660},
      {"lo": 1660, "hi": 1715}, {"lo": 1715, "hi": 1770}, {"lo": 1770, "hi": 1825}, {"lo": 1825, "hi": 1880},
      {"lo": 1880, "hi": 1935}, {"lo": 1935, "hi": 1990}, {"lo": 1990, "hi": 2045}, {"lo": 2045, "hi": 2100}
    ]
  },
  "layer": [
    {
      "layer": [
        {
          "data": {"name": "cells"},
          "mark": {"type": "rect", "width": 16.6, "height": 25.7, "clip": true},
          "encoding": {
            "x": {"field": "x", "type": "quantitative", "scale": {"domain": [0, 0.95], "nice": false, "zero": false},
                  "axis": {"orient": "bottom", "values": [0, 0.1, 0.2, 0.3, 0.4, 0.5, 0.6, 0.7, 0.8, 0.9], "format": "~g", "tickSize": -13, "labelPadding": 20, "domain": true, "title": null}},
            "y": {"field": "y", "type": "quantitative", "scale": {"domain": [10, 50], "nice": false, "zero": false},
                  "axis": {"orient": "left", "values": [10, 15, 20, 25, 30, 35, 40, 45, 50], "tickSize": -15, "labelPadding": 20, "domain": true, "title": null}},
            "color": {"field": "v", "type": "quantitative",
                      "scale": {"type": "quantize", "domain": [1000, 2100], "range": ["#263eaa","#1752cc","#1063dc","#1272d9","#1481d6","#0e8fd1","#099dcc","#0ea8c2","#1eafb3","#2eb7a4","#52ba92","#75bd80","#96be71","#b3bd65","#d1bb59","#e3c04a","#f5c63a","#fdd32b","#fbe71c","#f9fb0e"]},
                      "legend": null}
          }
        },
        {
          "data": {"name": "contours"},
          "mark": {"type": "line", "stroke": "#111111", "strokeWidth": 2.6, "strokeDash": [7, 4]},
          "encoding": {
            "x": {"field": "x", "type": "quantitative", "axis": {"orient": "top", "values": [0.1, 0.2, 0.3, 0.4, 0.5, 0.6, 0.7, 0.8, 0.9], "tickSize": -13, "labels": false, "domain": true, "title": null}},
            "y": {"field": "y", "type": "quantitative", "axis": {"orient": "right", "values": [15, 20, 25, 30, 35, 40, 45], "tickSize": -15, "labels": false, "domain": true, "title": null}},
            "detail": {"field": "c"},
            "order": {"value": null}
          }
        },
        {
          "data": {"name": "clabels"},
          "mark": {"type": "text", "fontWeight": "bold", "fontSize": 16, "color": "#1a1a1a", "align": "center", "baseline": "middle"},
          "encoding": {
            "x": {"field": "x", "type": "quantitative", "axis": {"orient": "bottom", "values": [0.02,0.04,0.06,0.08,0.12,0.14,0.16,0.18,0.22,0.24,0.26,0.28,0.32,0.34,0.36,0.38,0.42,0.44,0.46,0.48,0.52,0.54,0.56,0.58,0.62,0.64,0.66,0.68,0.72,0.74,0.76,0.78,0.82,0.84,0.86,0.88,0.92,0.94], "tickSize": -6, "labels": false, "domain": false, "title": null}},
            "y": {"field": "y", "type": "quantitative", "axis": null},
            "text": {"field": "level"}
          }
        },
        {
          "data": {"values": [{}]},
          "mark": {"type": "text", "text": "ATLAS", "fontSize": 33, "fontWeight": "bold", "fontStyle": "italic", "align": "left", "baseline": "alphabetic", "color": "#000000"},
          "encoding": {
            "x": {"datum": 0.0016, "axis": {"orient": "top", "values": [0.02,0.04,0.06,0.08,0.12,0.14,0.16,0.18,0.22,0.24,0.26,0.28,0.32,0.34,0.36,0.38,0.42,0.44,0.46,0.48,0.52,0.54,0.56,0.58,0.62,0.64,0.66,0.68,0.72,0.74,0.76,0.78,0.82,0.84,0.86,0.88,0.92,0.94], "tickSize": -6, "labels": false, "domain": false, "title": null}},
            "y": {"datum": 54.26, "axis": null}
          }
        },
        {
          "data": {"values": [{}]},
          "mark": {"type": "text", "text": "√s = 13 TeV, 139 fb⁻¹", "fontSize": 19, "align": "left", "baseline": "alphabetic", "color": "#111111"},
          "encoding": {"x": {"datum": 0.0016, "axis": null}, "y": {"datum": 51.69, "axis": null}}
        },
        {
          "data": {"values": [{}]},
          "mark": {"type": "text", "text": "M", "font": "Lato", "fontSize": 39, "align": "left", "baseline": "alphabetic", "color": "#000000"},
          "encoding": {"x": {"datum": 0.4592, "axis": null}, "y": {"datum": 54.9, "axis": null}}
        },
        {
          "data": {"values": [{}]},
          "mark": {"type": "text", "text": "T", "font": "Lato", "fontSize": 24, "align": "left", "baseline": "alphabetic", "color": "#000000"},
          "encoding": {"x": {"datum": 0.521, "axis": null}, "y": {"datum": 54.2, "axis": null}}
        },
        {
          "data": {"values": [{}]},
          "mark": {"type": "text", "text": "limits in relative width", "font": "Lato", "fontSize": 39, "align": "left", "baseline": "alphabetic", "color": "#000000"},
          "encoding": {"x": {"datum": 0.5606, "axis": null}, "y": {"datum": 54.9, "axis": null}}
        },
        {
          "data": {"values": [{}]},
          "mark": {"type": "text", "text": "and relative coupling", "font": "Lato", "fontSize": 39, "align": "left", "baseline": "alphabetic", "color": "#000000"},
          "encoding": {"x": {"datum": 0.4592, "axis": null}, "y": {"datum": 51.29, "axis": null}}
        },
        {
          "data": {"values": [{}]},
          "mark": {"type": "text", "text": "Γ", "font": "Liberation Serif", "fontSize": 30, "angle": 270, "align": "left", "baseline": "alphabetic", "color": "#111111"},
          "encoding": {"x": {"datum": -0.0934, "axis": null}, "y": {"datum": 39.8, "axis": null}}
        },
        {
          "data": {"values": [{}]},
          "mark": {"type": "text", "text": "T", "fontSize": 20, "angle": 270, "align": "left", "baseline": "alphabetic", "dy": 7, "color": "#111111"},
          "encoding": {"x": {"datum": -0.0934, "axis": null}, "y": {"datum": 41.27, "axis": null}}
        },
        {
          "data": {"values": [{}]},
          "mark": {"type": "text", "text": "/M", "fontSize": 30, "angle": 270, "align": "left", "baseline": "alphabetic", "color": "#111111"},
          "encoding": {"x": {"datum": -0.0934, "axis": null}, "y": {"datum": 42.25, "axis": null}}
        },
        {
          "data": {"values": [{}]},
          "mark": {"type": "text", "text": "T", "fontSize": 20, "angle": 270, "align": "left", "baseline": "alphabetic", "dy": 7, "color": "#111111"},
          "encoding": {"x": {"datum": -0.0934, "axis": null}, "y": {"datum": 44.92, "axis": null}}
        },
        {
          "data": {"values": [{}]},
          "mark": {"type": "text", "text": "(%)", "fontSize": 30, "angle": 270, "align": "left", "baseline": "alphabetic", "color": "#111111"},
          "encoding": {"x": {"datum": -0.0934, "axis": null}, "y": {"datum": 46.54, "axis": null}}
        },
        {
          "data": {"values": [{}]},
          "mark": {"type": "text", "text": "ξ", "font": "Liberation Serif", "fontSize": 32, "align": "left", "baseline": "alphabetic", "color": "#111111"},
          "encoding": {"x": {"datum": 0.8962, "axis": null}, "y": {"datum": 5.4, "axis": null}}
        },
        {
          "data": {"values": [{}]},
          "mark": {"type": "text", "text": "W", "fontSize": 20, "align": "left", "baseline": "alphabetic", "color": "#111111"},
          "encoding": {"x": {"datum": 0.9263, "axis": null}, "y": {"datum": 4.95, "axis": null}}
        },
        {
          "data": {"values": [{}]},
          "mark": {"type": "text", "text": "Obs Mass Limit at 95% CL [GeV]", "fontSize": 33.5, "angle": 270, "align": "right", "baseline": "alphabetic", "color": "#111111"},
          "encoding": {"x": {"datum": 1.1685, "axis": null}, "y": {"datum": 50.08, "axis": null}}
        }
      ],
      "resolve": {"axis": {"x": "independent", "y": "independent"}}
    },
    {
      "data": {"name": "bands"},
      "mark": {"type": "rect", "strokeWidth": 0.6},
      "encoding": {
        "x": {"datum": 0.958, "axis": null},
        "x2": {"datum": 1.0228},
        "y": {"field": "lo", "type": "quantitative", "scale": {"domain": [1000, 2100], "nice": false, "zero": false},
              "axis": {"orient": "right", "offset": 46, "values": [1000, 1200, 1400, 1600, 1800, 2000], "format": "d", "tickSize": -15, "labelPadding": 21, "labelFontSize": 23, "domain": true, "title": null}},
        "y2": {"field": "hi"},
        "color": {"field": "lo", "type": "quantitative",
                  "scale": {"type": "quantize", "domain": [1000, 2100], "range": ["#263eaa","#1752cc","#1063dc","#1272d9","#1481d6","#0e8fd1","#099dcc","#0ea8c2","#1eafb3","#2eb7a4","#52ba92","#75bd80","#96be71","#b3bd65","#d1bb59","#e3c04a","#f5c63a","#fdd32b","#fbe71c","#f9fb0e"]},
                  "legend": null},
        "stroke": {"field": "lo", "type": "quantitative",
                  "scale": {"type": "quantize", "domain": [1000, 2100], "range": ["#263eaa","#1752cc","#1063dc","#1272d9","#1481d6","#0e8fd1","#099dcc","#0ea8c2","#1eafb3","#2eb7a4","#52ba92","#75bd80","#96be71","#b3bd65","#d1bb59","#e3c04a","#f5c63a","#fdd32b","#fbe71c","#f9fb0e"]},
                  "legend": null}
      }
    }
  ],
  "resolve": {"scale": {"y": "independent"}, "axis": {"x": "independent", "y": "independent"}}
}
